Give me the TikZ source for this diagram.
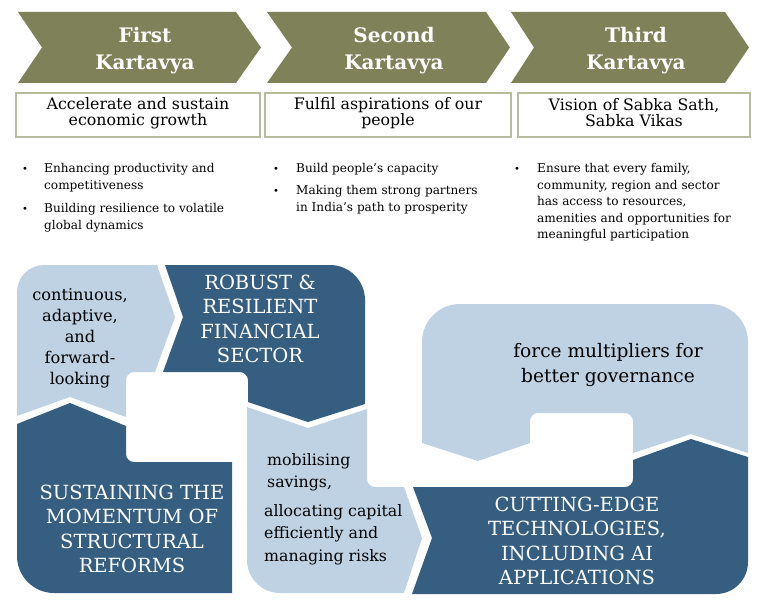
\documentclass[tikz,border=0pt]{standalone}
\usepackage{fontspec}
\setmainfont{DejaVu Serif}
\definecolor{kolive}{HTML}{7F8259}
\definecolor{lblue}{HTML}{BFD2E4}
\definecolor{dblue}{HTML}{365E80}
\definecolor{boxline}{HTML}{B9BB9E}
\tikzset{
  chev/.style={fill=kolive},
  title/.style={text=white, font=\fontsize{20}{27}\selectfont\bfseries, align=center, inner sep=0pt},
  subbox/.style={draw=boxline, line width=1.5pt, fill=white, inner sep=0pt},
  boxtxt/.style={font=\fontsize{15.8}{16}\selectfont, align=center, inner sep=0pt},
  bul/.style={font=\fontsize{12.1}{17}\selectfont, align=left, inner sep=0pt, anchor=north west},
  bdot/.style={font=\fontsize{10}{10}\selectfont, inner sep=0pt},
  light/.style={fill=lblue},
  dark/.style={fill=dblue},
  ltxt/.style={font=\fontsize{16.2}{21}\selectfont, align=center, inner sep=0pt},
  mtxt/.style={font=\fontsize{15.8}{22.5}\selectfont, align=left, inner sep=0pt, anchor=west},
  dtxt/.style={text=white, font=\fontsize{19.5}{24.5}\selectfont, align=center, inner sep=0pt},
}
\begin{document}
\begin{tikzpicture}[x=1pt, y=-1pt]
\useasboundingbox (0,0) rectangle (763,607);

% chevrons
\fill[chev] (18,12) -- (236,12) -- (261,47.5) -- (236,83) -- (18,83) -- (42,47.5) -- cycle;
\fill[chev] (267,12) -- (486,12) -- (510,47.5) -- (486,83) -- (267,83) -- (292,47.5) -- cycle;
\fill[chev] (511,12) -- (725,12) -- (749,47.5) -- (725,83) -- (511,83) -- (534,47.5) -- cycle;
\node[title] (t1) at (145,51) {First\\Kartavya};
\node[title] (t2) at (394,51) {Second\\Kartavya};
\node[title] (t3) at (636,51) {Third\\Kartavya};

% boxes
\node[subbox, minimum width=244pt, minimum height=44pt] (box1) at (138,115) {};
\node[subbox, minimum width=246pt, minimum height=44pt] (box2) at (388,115) {};
\node[subbox, minimum width=232pt, minimum height=44pt] (box3) at (634,115) {};
\node[boxtxt] (bt1) at (138,113) {Accelerate and sustain\\economic growth};
\node[boxtxt] (bt2) at (388,113) {Fulfil aspirations of our\\people};
\node[boxtxt] (bt3) at (634,113) {Vision of Sabka Sath,\\Sabka Vikas};

% bullets
\node[bul] (p11) at (44,163) {Enhancing productivity and\\competitiveness};
\node[bul] (p12) at (44,203) {Building resilience to volatile\\global dynamics};
\node[bdot] (d11) at (25,170) {\textbullet};
\node[bdot] (d12) at (25,210) {\textbullet};
\node[bul] (p21) at (296,163) {Build people’s capacity};
\node[bul] (p22) at (296,185) {Making them strong partners\\in India’s path to prosperity};
\node[bdot] (d21) at (276,170) {\textbullet};
\node[bdot] (d22) at (276,192) {\textbullet};
\node[bul, font=\fontsize{12.1}{16.5}\selectfont] (p31) at (537,163.5) {Ensure that every family,\\community, region and sector\\has access to resources,\\amenities and opportunities for\\meaningful participation};
\node[bdot] (d31) at (517,170) {\textbullet};

% left cycle
\fill[light] (17,292) .. controls (17,277.1) and (29.1,265) .. (44,265) -- (157,265) -- (175,317) -- (155,372)
  -- (134,372) .. controls (129.6,372) and (126,375.6) .. (126,380) -- (126,417) -- (70,397) -- (17,416) -- cycle;
\fill[dark] (165,265) -- (330,265) .. controls (349.3,265) and (365,280.7) .. (365,300) -- (365,404) -- (308,422)
  -- (248,402) -- (248,380) .. controls (248,375.6) and (243.6,372) .. (240,372) -- (163,372) -- (183,317) -- cycle;
\fill[dark] (17,424) -- (70,403) -- (126,426) -- (126,454) .. controls (126,458.4) and (129.6,462) .. (134,462)
  -- (232,462) -- (232,593) -- (54,593) .. controls (33.6,593) and (17,576.4) .. (17,556) -- cycle;
\fill[light] (247,407) -- (308,428) -- (367,409) -- (367,479) .. controls (367,483.4) and (370.6,487) .. (375,487)
  -- (404,487) -- (422,538) -- (404,593) -- (280,593) .. controls (261.8,593) and (247,578.2) .. (247,560) -- cycle;

% right cycle
\fill[light] (422,443) -- (422,342) .. controls (422,321) and (439,304) .. (460,304) -- (710,304)
  .. controls (731,304) and (748,321) .. (748,342) -- (748,453) -- (691,434) -- (633,453) -- (633,421)
  .. controls (633,416.6) and (628.6,413) .. (625,413) -- (538,413) .. controls (533.6,413) and (530,416.6) .. (530,421)
  -- (530,443) -- (478,461) -- cycle;
\fill[dark] (413,487) -- (625,487) .. controls (629.4,487) and (633,483.4) .. (633,479) -- (633,460) -- (691,439)
  -- (748,457) -- (748,562) .. controls (748,579.7) and (733.7,594) .. (716,594) -- (412,594) -- (432,538) -- cycle;

% cycle texts
\node[ltxt] (a) at (80,338) {continuous,\\adaptive,\\and\\forward-\\looking};
\node[dtxt] (r) at (260,319) {ROBUST \&\\RESILIENT\\FINANCIAL\\SECTOR};
\node[dtxt] (s) at (132,529) {SUSTAINING THE\\MOMENTUM OF\\STRUCTURAL\\REFORMS};
\node[mtxt, font=\fontsize{15.8}{22}\selectfont] (m1) at (267,472.5) {mobilising\\savings,};
\node[mtxt] (m2) at (264,534.5) {allocating capital\\efficiently and\\managing risks};
\node[ltxt, font=\fontsize{18.6}{25}\selectfont] (f) at (608,365) {force multipliers for\\better governance};
\node[dtxt] (c) at (577,541) {CUTTING-EDGE\\TECHNOLOGIES,\\INCLUDING AI\\APPLICATIONS};
\end{tikzpicture}
\end{document}
